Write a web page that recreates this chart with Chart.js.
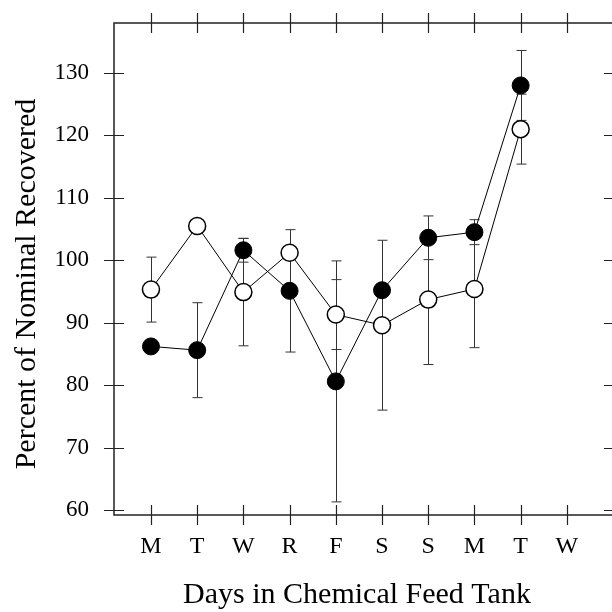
<!DOCTYPE html>
<html>
<head>
<meta charset="utf-8">
<script src="https://cdn.jsdelivr.net/npm/chart.js@4.4.1/dist/chart.umd.min.js"></script>
<style>
  html, body { margin: 0; padding: 0; background: #fff; overflow: hidden; }
  #wrap { width: 612px; height: 612px; overflow: hidden; position: relative; }
  canvas { display: block; position: absolute; left: 0; top: 0; }
</style>
</head>
<body>
<div id="wrap"><canvas id="chart" width="640" height="612"></canvas></div>
<script>
  // days along the x axis
  const days = ["M", "T", "W", "R", "F", "S", "S", "M", "T", "W"];
  const yTicks = [60, 70, 80, 90, 100, 110, 120, 130];

  // filled circles
  const filledValues = [86.2, 85.6, 101.6, 95.1, 80.6, 95.2, 103.6, 104.5, 128.0, null];
  const filledErrors = [null, 7.6, 1.9, 9.8, 19.3, null, 3.5, 2.0, 5.6, null];

  // open circles
  const openValues = [95.3, 105.5, 94.9, 101.2, 91.3, 89.6, 93.7, 95.4, 121.0, null];
  const openErrors = [5.2, null, 8.6, null, 5.6, 13.6, 10.4, 9.4, 5.6, null];

  const xTitle = "Days in Chemical Feed Tank";
  const yTitle = "Percent of Nominal Recovered";
  const serif = "'Liberation Serif', 'Times New Roman', serif";

  function toPoints(values) {
    return values.map((v, i) => (v === null ? null : { x: i, y: v })).filter(Boolean);
  }

  function noPadding(scale) {
    scale.paddingTop = 0;
    scale.paddingBottom = 0;
    scale.paddingLeft = 0;
    scale.paddingRight = 0;
  }

  const frameAndBars = {
    id: "frameAndBars",
    beforeDatasetsDraw(chart) {
      const ctx = chart.ctx;
      const x = chart.scales.x;
      const y = chart.scales.y;
      ctx.save();
      ctx.strokeStyle = "#333";
      ctx.lineWidth = 1;
      [[filledValues, filledErrors], [openValues, openErrors]].forEach(([vals, errs]) => {
        vals.forEach((v, i) => {
          if (v === null || errs[i] === null) return;
          const px = Math.round(x.getPixelForValue(i)) + 0.5;
          const top = y.getPixelForValue(v + errs[i]);
          const bot = y.getPixelForValue(v - errs[i]);
          ctx.beginPath();
          ctx.moveTo(px, top);
          ctx.lineTo(px, bot);
          ctx.moveTo(px - 5, top);
          ctx.lineTo(px + 5, top);
          ctx.moveTo(px - 5, bot);
          ctx.lineTo(px + 5, bot);
          ctx.stroke();
        });
      });
      ctx.restore();
    },
    afterDraw(chart) {
      const ctx = chart.ctx;
      const a = chart.chartArea;
      const x = chart.scales.x;
      const y = chart.scales.y;
      ctx.save();
      ctx.strokeStyle = "#222";
      ctx.lineWidth = 1.5;
      ctx.strokeRect(a.left, a.top, a.right - a.left, a.bottom - a.top);
      ctx.lineWidth = 1.2;
      ctx.beginPath();
      days.forEach((d, i) => {
        const px = Math.round(x.getPixelForValue(i)) + 0.5;
        ctx.moveTo(px, a.bottom - 10);
        ctx.lineTo(px, a.bottom + 10);
        ctx.moveTo(px, a.top - 10);
        ctx.lineTo(px, a.top + 10);
      });
      yTicks.forEach((v) => {
        const py = Math.round(y.getPixelForValue(v)) + 0.5;
        ctx.moveTo(a.left - 10, py);
        ctx.lineTo(a.left + 10, py);
        ctx.moveTo(a.right - 10, py);
        ctx.lineTo(a.right + 10, py);
      });
      ctx.stroke();

      ctx.fillStyle = "#000";
      ctx.font = "30px " + serif;
      ctx.textAlign = "center";
      ctx.textBaseline = "alphabetic";
      ctx.fillText(xTitle, (a.left + a.right) / 2 - 7, a.bottom + 88);

      ctx.translate(35, (a.top + a.bottom) / 2 + 15);
      ctx.rotate(-Math.PI / 2);
      ctx.fillText(yTitle, 0, 0);
      ctx.restore();
    }
  };

  new Chart(document.getElementById("chart"), {
    type: "scatter",
    data: {
      datasets: [
        {
          label: "filled",
          data: toPoints(filledValues),
          showLine: true,
          borderColor: "#000",
          borderWidth: 1,
          backgroundColor: "#000",
          pointBackgroundColor: "#000",
          pointBorderColor: "#000",
          pointBorderWidth: 1,
          pointRadius: 8.5,
          order: 2
        },
        {
          label: "open",
          data: toPoints(openValues),
          showLine: true,
          borderColor: "#000",
          borderWidth: 1,
          backgroundColor: "#fff",
          pointBackgroundColor: "#fff",
          pointBorderColor: "#000",
          pointBorderWidth: 1.5,
          pointRadius: 8.5,
          order: 1
        }
      ]
    },
    options: {
      responsive: false,
      animation: false,
      events: [],
      layout: { padding: { top: 23, right: 26, left: 0, bottom: 0 } },
      plugins: { legend: { display: false }, tooltip: { enabled: false } },
      scales: {
        x: {
          type: "linear",
          min: -0.8,
          max: 10.02,
          grid: { display: false },
          border: { display: false },
          afterBuildTicks(scale) {
            scale.ticks = days.map((d, i) => ({ value: i }));
          },
          afterFit(scale) {
            scale.height = 97;
            noPadding(scale);
          },
          ticks: {
            autoSkip: false,
            maxRotation: 0,
            padding: 9,
            color: "#000",
            font: { family: serif, size: 24 },
            callback: (value) => days[value]
          }
        },
        y: {
          type: "linear",
          min: 59.2,
          max: 138,
          grid: { display: false },
          border: { display: false },
          afterBuildTicks(scale) {
            scale.ticks = yTicks.map((v) => ({ value: v }));
          },
          afterFit(scale) {
            scale.width = 114;
            noPadding(scale);
          },
          ticks: {
            padding: 17,
            color: "#000",
            font: { family: serif, size: 23 },
            callback: (value) => String(value)
          }
        }
      }
    },
    plugins: [frameAndBars]
  });
</script>
</body>
</html>
